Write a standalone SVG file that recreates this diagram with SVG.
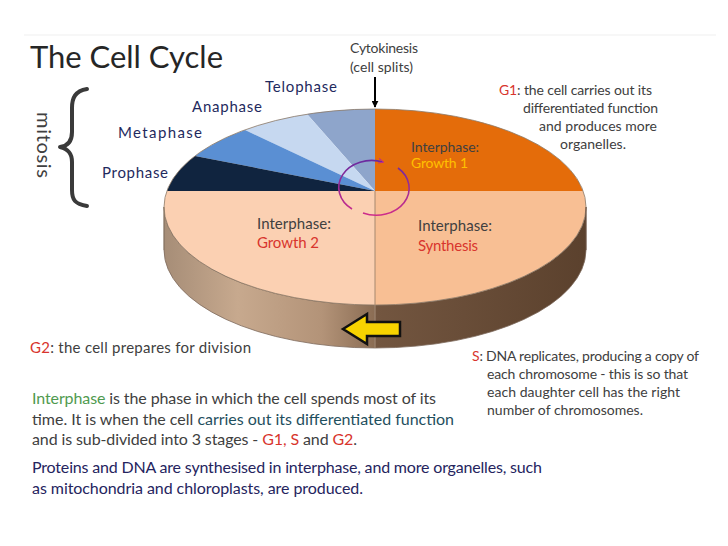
<svg xmlns="http://www.w3.org/2000/svg" width="728" height="546" viewBox="0 0 728 546">
<defs>
<style>
text{font-family:Lato,"Open Sans","Liberation Sans",sans-serif;}
.body{fill:#404040;}
.navy{fill:#1f2a5e;}
.red{fill:#d8352d;}
.lbl{fill:#404040;}
.edge{stroke:#7d6a5c;stroke-width:0.8;}
</style>
<linearGradient id="sideL" x1="164" y1="0" x2="375" y2="0" gradientUnits="userSpaceOnUse">
<stop offset="0" stop-color="#a68d77"/>
<stop offset="0.35" stop-color="#c7a98e"/>
<stop offset="0.75" stop-color="#b39378"/>
<stop offset="1" stop-color="#8a6c53"/>
</linearGradient>
<linearGradient id="sideR" x1="375" y1="0" x2="586" y2="0" gradientUnits="userSpaceOnUse">
<stop offset="0" stop-color="#735640"/>
<stop offset="1" stop-color="#5b412d"/>
</linearGradient>
<linearGradient id="cyc" x1="0" y1="160" x2="0" y2="216" gradientUnits="userSpaceOnUse">
<stop offset="0" stop-color="#6a2aa0"/>
<stop offset="1" stop-color="#d02c8a"/>
</linearGradient>
<marker id="ah" viewBox="0 0 10 10" refX="9" refY="5" markerWidth="7" markerHeight="7" orient="auto" markerUnits="userSpaceOnUse">
<path d="M0,0 L10,5 L0,10 Z" fill="#000"/>
</marker>
<marker id="ahc" viewBox="0 0 10 10" refX="8" refY="5" markerWidth="6" markerHeight="6" orient="auto" markerUnits="userSpaceOnUse">
<path d="M0,1 L9,5 L0,9" fill="none" stroke="#c02c8c" stroke-width="1.6"/>
</marker>
</defs>
<rect width="728" height="546" fill="#ffffff"/>
<line x1="24" y1="35" x2="716" y2="35" stroke="#efefef" stroke-width="1"/>

<text x="30" y="68" font-size="31" fill="#262626" textLength="193">The Cell Cycle</text>

<g id="mitosis">
<text transform="translate(37,112) rotate(90)" font-size="20" fill="#404040" textLength="66">mitosis</text>
<path d="M87,89 C75,91 72,98 72,108 L72,132 C72,141 68,146 60,147 C68,149 72,153 72,162 L72,190 C72,200 75,204 87,206" fill="none" stroke="#3a3a3a" stroke-width="4" stroke-linecap="round" stroke-linejoin="round"/>
</g>

<g id="pie">
<path id="side-left" class="edge" d="M164,207 L164,250 A211,98 0 0 0 375,348 L375,305 A211,98 0 0 1 164,207 Z" fill="url(#sideL)"/>
<path id="side-right" class="edge" d="M375,348 A211,98 0 0 0 586,250 L586,207 A211,98 0 0 1 375,305 Z" fill="url(#sideR)"/>
<path id="growth2" d="M375,191 L375,305 A211,98 0 0 1 167,191 Z" fill="#fbd0b2"/>
<path id="synthesis" d="M375,191 L583,191 A211,98 0 0 1 375,305 Z" fill="#f8bf94"/>
<path id="growth1" d="M375,191 L375,109 A211,98 0 0 1 583,191 Z" fill="#e46c0a"/>
<path id="telophase" d="M375,191 L307,114 A211,98 0 0 1 375,109 Z" fill="#8ea5cb"/>
<path id="anaphase" d="M375,191 L245,130 A211,98 0 0 1 307,114 Z" fill="#c6d8f0"/>
<path id="metaphase" d="M375,191 L195,156 A211,98 0 0 1 245,130 Z" fill="#5a8fd3"/>
<path id="prophase" d="M375,191 L167,191 A211,98 0 0 1 195,156 Z" fill="#10243f"/>
<ellipse cx="375" cy="207" rx="211" ry="98" fill="none" stroke="#8b7866" stroke-width="0.8"/>
<line x1="375" y1="191" x2="375" y2="348" stroke="#a5886f" stroke-width="1"/>
<line x1="164" y1="207" x2="164" y2="250" stroke="#8b7866" stroke-width="0.8"/>
<line x1="586" y1="207" x2="586" y2="250" stroke="#5a4030" stroke-width="0.8"/>
</g>

<g id="labels">
<text x="265" y="92" class="navy" font-size="15" textLength="72">Telophase</text>
<text x="192" y="112" class="navy" font-size="15" textLength="70">Anaphase</text>
<text x="118" y="138" class="navy" font-size="15" textLength="84">Metaphase</text>
<text x="102" y="178" class="navy" font-size="15" textLength="66">Prophase</text>
<text x="411" y="152" class="lbl" font-size="14" textLength="68">Interphase:</text>
<text x="411" y="168" font-size="14" fill="#ffc000" textLength="57">Growth 1</text>
<text x="257" y="229" class="lbl" font-size="15" textLength="74">Interphase:</text>
<text x="257" y="248" font-size="15" class="red" textLength="62">Growth 2</text>
<text x="418" y="231" class="lbl" font-size="15" textLength="74">Interphase:</text>
<text x="418" y="251" font-size="15" class="red" textLength="60">Synthesis</text>
<text x="350" y="53" class="body" font-size="14" textLength="68">Cytokinesis</text>
<text x="350" y="72" class="body" font-size="14" textLength="63">(cell splits)</text>
</g>

<g id="connectors">
<line x1="375" y1="77" x2="375" y2="107" stroke="#000" stroke-width="2" marker-end="url(#ah)"/>
<path d="M352,209 A33,27 0 0 1 383,162" fill="none" stroke="url(#cyc)" stroke-width="1.6" marker-end="url(#ahc)"/>
<path d="M398,168 A33,27 0 0 1 363,213" fill="none" stroke="url(#cyc)" stroke-width="1.6"/>
<path d="M343,329 L367,314 L367,322 L400,322 L400,336 L367,336 L367,344 Z" fill="#f7d300" stroke="#111" stroke-width="2.5" stroke-linejoin="miter"/>
</g>

<g id="g1-text">
<text x="499" y="95" class="body" font-size="14" textLength="153"><tspan class="red">G1</tspan>: the cell carries out its</text>
<text x="523" y="113" class="body" font-size="14" textLength="135">differentiated function</text>
<text x="539" y="131" class="body" font-size="14" textLength="118">and produces more</text>
<text x="560" y="149" class="body" font-size="14" textLength="66">organelles.</text>
</g>

<g id="g2-text">
<text x="30" y="353" class="body" font-size="15" textLength="221"><tspan class="red">G2</tspan>: the cell prepares for division</text>
</g>

<g id="s-text">
<text x="472" y="361" class="body" font-size="14" textLength="227"><tspan class="red">S</tspan>: DNA replicates, producing a copy of</text>
<text x="487" y="379" class="body" font-size="14" textLength="201">each chromosome - this is so that</text>
<text x="487" y="397" class="body" font-size="14" textLength="193">each daughter cell has the right</text>
<text x="487" y="415" class="body" font-size="14" textLength="156">number of chromosomes.</text>
</g>

<g id="paragraph">
<text x="32" y="404" class="body" font-size="16" textLength="404"><tspan fill="#4f9a4f">Interphase</tspan> is the phase in which the cell spends most of its</text>
<text x="32" y="425" class="body" font-size="16" textLength="422">time. It is when the cell <tspan fill="#1f4f5e">carries out its differentiated function</tspan></text>
<text x="32" y="445" class="body" font-size="16" textLength="325">and is sub-divided into 3 stages - <tspan class="red">G1, S</tspan> and <tspan class="red">G2</tspan>.</text>
<text x="32" y="473" font-size="16" fill="#25245e" textLength="510">Proteins and DNA are synthesised in interphase, and more organelles, such</text>
<text x="32" y="494" font-size="16" fill="#25245e" textLength="331">as mitochondria and chloroplasts, are produced.</text>
</g>
</svg>
